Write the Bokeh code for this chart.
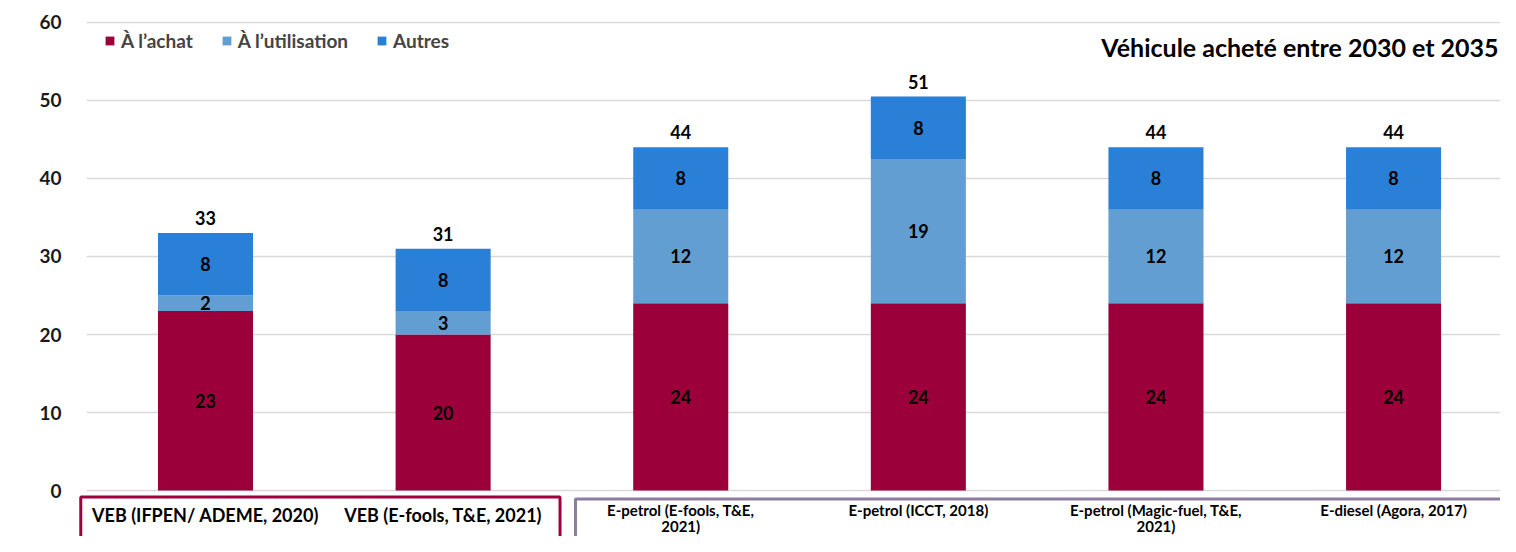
from math import pi
from bokeh.plotting import figure
from bokeh.models import Range1d, FixedTicker, ColumnDataSource, LabelSet, Label
from bokeh.core.properties import value
from bokeh.embed import file_html
from bokeh.resources import INLINE

# ---------------- data ----------------
categories = [
    "VEB (IFPEN/ ADEME, 2020)",
    "VEB (E-fools, T&E, 2021)",
    "E-petrol (E-fools, T&E,\n2021)",
    "E-petrol (ICCT, 2018)",
    "E-petrol (Magic-fuel, T&E,\n2021)",
    "E-diesel (Agora, 2017)",
]
groups = [0, 0, 1, 1, 1, 1]
achat = [23, 20, 24, 24, 24, 24]
utilisation = [2, 3, 12, 18.5, 12, 12]
autres = [8, 8, 8, 8, 8, 8]
series_names = ["À l’achat", "À l’utilisation", "Autres"]
y_ticks = [0, 10, 20, 30, 40, 50, 60]
title_text = "Véhicule acheté entre 2030 et 2035"
y_label = "TCO (€/100km)"

# ---------------- style ----------------
colors = ["#9B003A", "#639ED2", "#2A7FD6"]
group_colors = ["#A0003C", "#8E7C9E"]
FONT = value("Lato")

def r(v):
    return str(int(v + 0.5))

n = len(categories)
x = [i + 0.5 for i in range(n)]
total = [a + b + c for a, b, c in zip(achat, utilisation, autres)]
src = ColumnDataSource(dict(
    x=x, achat=achat, utilisation=utilisation, autres=autres, total=total,
    y1=[a / 2 for a in achat],
    y2=[a + b / 2 for a, b in zip(achat, utilisation)],
    y3=[a + b + c / 2 for a, b, c in zip(achat, utilisation, autres)],
    t1=[r(v) for v in achat], t2=[r(v) for v in utilisation],
    t3=[r(v) for v in autres], tt=[r(v) for v in total],
))

p = figure(width=1500, height=536, output_backend="svg", toolbar_location=None,
           x_range=Range1d(-0.0345, 5.950), y_range=Range1d(-5.897, 62.82),
           x_axis_location=None, min_border_left=78, min_border_right=0,
           min_border_top=0, min_border_bottom=0)
p.outline_line_color = None
p.grid.visible = False

# gridlines from tick values
p.segment(x0=[0] * len(y_ticks), x1=[6.1] * len(y_ticks), y0=y_ticks, y1=y_ticks,
          line_color="#D9D9D9", line_width=1.5)

renderers = p.vbar_stack(["achat", "utilisation", "autres"], x="x", width=0.4,
                         source=src, color=colors, line_color=None,
                         legend_label=series_names)

# segment labels
for yc, tc in [("y1", "t1"), ("y2", "t2"), ("y3", "t3")]:
    p.add_layout(LabelSet(x="x", y=yc, text=tc, source=src, text_align="center",
                          text_baseline="middle", text_font=FONT, text_font_style="bold",
                          text_font_size="18px", text_color="#000000"))
p.add_layout(LabelSet(x="x", y="total", text="tt", source=src, text_align="center",
                      text_baseline="middle", y_offset=15, text_font=FONT,
                      text_font_style="bold", text_font_size="18px", text_color="#000000"))

# y axis
ax = p.yaxis[0]
ax.ticker = FixedTicker(ticks=y_ticks)
ax.axis_line_color = None
ax.major_tick_line_color = None
ax.minor_tick_line_color = None
ax.major_label_standoff = 11
ax.major_label_text_font = "Lato"
ax.major_label_text_font_style = "bold"
ax.major_label_text_font_size = "19px"
ax.major_label_text_color = "#1a1a1a"

p.add_layout(Label(x=-0.27, y=31.5, text=y_label, angle=pi / 2, text_align="center",
                   text_baseline="middle", text_font="Lato", text_font_style="bold",
                   text_font_size="19px", text_color="#000000"))

p.add_layout(Label(x=5.942, y=56.8, text=title_text, text_align="right",
                   text_baseline="middle", text_font="Lato", text_font_style="bold",
                   text_font_size="25px", text_color="#000000"))

# group boxes
pads = [(-0.025, 0.008), (0.057, 0.043)]
tops = [-0.83, -1.09]
for g in range(2):
    idx = [i for i, gg in enumerate(groups) if gg == g]
    left = idx[0] + pads[g][0]
    right = idx[-1] + 1 - pads[g][1]
    p.quad(left=[left], right=[right], top=[tops[g]], bottom=[-20],
           fill_color=None, line_color=group_colors[g], line_width=3)

# category labels
line1 = [c.split("\n")[0] for c in categories]
line2 = [c.split("\n")[1] if "\n" in c else "" for c in categories]
for g, size, y1, y2 in [(0, "18px", -3.2, -5.0), (1, "15px", -2.45, -4.55)]:
    idx = [i for i, gg in enumerate(groups) if gg == g]
    p.text(x=[x[i] for i in idx], y=[y1] * len(idx), text=[line1[i] for i in idx],
           text_align="center", text_baseline="middle", text_font=FONT,
           text_font_style="bold", text_font_size=size, text_color="#000000")
    two = [i for i in idx if line2[i]]
    if two:
        p.text(x=[x[i] for i in two], y=[y2] * len(two), text=[line2[i] for i in two],
               text_align="center", text_baseline="middle", text_font=FONT,
               text_font_style="bold", text_font_size=size, text_color="#000000")

leg = p.legend[0]
leg.orientation = "horizontal"
leg.location = (26, 484)
leg.margin = 0
leg.padding = 0
leg.spacing = 28
leg.glyph_width = 11
leg.glyph_height = 11
leg.label_standoff = 6
leg.label_text_font = "Lato"
leg.label_text_font_style = "bold"
leg.label_text_font_size = "19px"
leg.border_line_color = None
leg.background_fill_alpha = 0

open("out.html", "w").write(file_html(p, INLINE))
